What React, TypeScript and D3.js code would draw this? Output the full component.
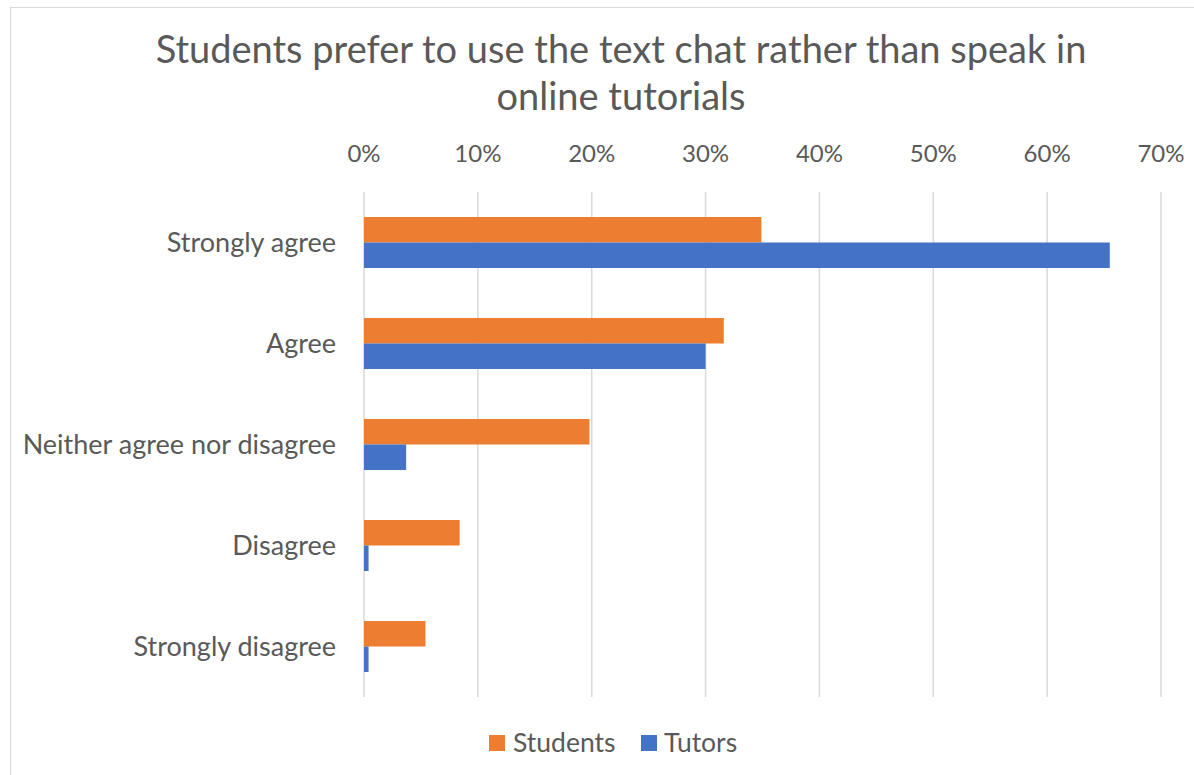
import React from "react";
import * as d3 from "d3";

const categories = ["Strongly agree", "Agree", "Neither agree nor disagree", "Disagree", "Strongly disagree"];
const seriesNames = ["Students", "Tutors"];
const students = [0.349, 0.316, 0.198, 0.084, 0.054];
const tutors = [0.655, 0.300, 0.037, 0.004, 0.004];
const ticks = [0, 0.1, 0.2, 0.3, 0.4, 0.5, 0.6, 0.7];
const titleLines = ["Students prefer to use the text chat rather than speak in", "online tutorials"];
const colors = ["#ED7D31", "#4472C4"];

const W = 1194;
const H = 775;
const FONT = "Lato, 'Open Sans', sans-serif";
const TEXT = "#595959";

export default function App() {
  const x = d3.scaleLinear().domain([0, 0.7]).range([364, 1161]);
  const y = d3.scaleBand<string>().domain(categories).range([192, 697]).paddingInner(0.495).paddingOuter(0.2475);
  const inner = d3.scaleBand<string>().domain(seriesNames).range([0, y.bandwidth()]);
  const values = [students, tutors];
  const fmt = d3.format(".0%");

  return (
    <svg width={W} height={H} style={{ position: "absolute", left: 0, top: 0, background: "#fff" }} fontFamily={FONT}>
      <rect x={0} y={0} width={W} height={H} fill="#fff" />
      <rect x={10.5} y={7.5} width={W + 20} height={H + 20} fill="none" stroke="#D9D9D9" strokeWidth={1} />
      {titleLines.map((t, i) => (
        <text key={t} x={621} y={63 + i * 47} textAnchor="middle" fontSize={38} fill={TEXT}>
          {t}
        </text>
      ))}
      {ticks.map((t) => (
        <g key={t}>
          <line x1={x(t)} x2={x(t)} y1={192} y2={697} stroke="#D9D9D9" strokeWidth={1.5} />
          <text x={x(t)} y={162} textAnchor="middle" fontSize={24} fill={TEXT}>
            {fmt(t)}
          </text>
        </g>
      ))}
      {categories.map((c, ci) => (
        <g key={c}>
          {seriesNames.map((s, si) => (
            <rect
              key={s}
              x={x(0)}
              y={(y(c) as number) + (inner(s) as number)}
              width={x(values[si][ci]) - x(0)}
              height={inner.bandwidth()}
              fill={colors[si]}
            />
          ))}
          <text x={336} y={(y(c) as number) + y.bandwidth() / 2} dy="0.35em" textAnchor="end" fontSize={27} fill={TEXT}>
            {c}
          </text>
        </g>
      ))}
      <g>
        <rect x={489} y={735} width={16} height={16} fill={colors[0]} />
        <text x={513} y={743} dy="0.35em" fontSize={26.5} fill={TEXT}>{seriesNames[0]}</text>
        <rect x={641} y={735} width={16} height={16} fill={colors[1]} />
        <text x={664} y={743} dy="0.35em" fontSize={26.5} fill={TEXT}>{seriesNames[1]}</text>
      </g>
    </svg>
  );
}
